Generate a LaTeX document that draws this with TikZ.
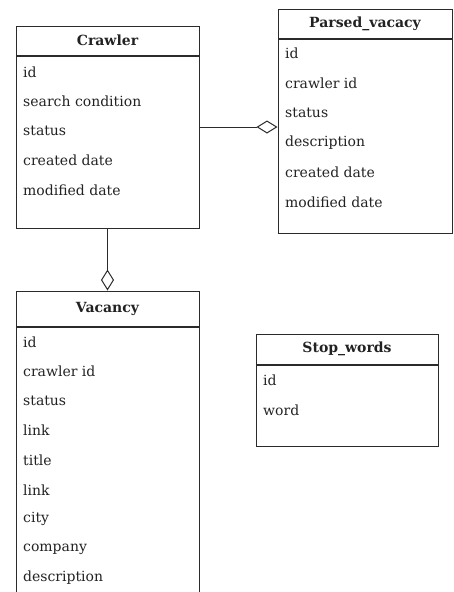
\documentclass[tikz,border=0pt]{standalone}
\usepackage{fontspec}
\setmainfont{DejaVu Serif}
\usetikzlibrary{arrows.meta,positioning}

\definecolor{umlline}{HTML}{2B2B2B}
\definecolor{umltext}{HTML}{222222}

\begin{document}
\begin{tikzpicture}[x=1pt,y=-1pt,
    head/.style={draw=umlline,line width=1pt,inner sep=0,font=\bfseries\fontsize{14}{16}\selectfont,text=umltext},
    body/.style={draw=umlline,line width=1pt,inner sep=0,anchor=north},
    field/.style={anchor=west,inner sep=0,font=\fontsize{14}{16}\selectfont,text=umltext},
    agg/.style={-{Diamond[open,length=21pt,width=13pt]},line width=1pt,draw=umlline}]

    \useasboundingbox (0,0) rectangle (453,592);

    % Crawler
    \node[head,minimum width=183,minimum height=29] (crawler-t) at (107.5,40.5) {Crawler};
    \node[body,minimum width=183,minimum height=172] (crawler) at (crawler-t.south) {};
    \node[field] (crawler-id) at (23,72) {id};
    \node[field] (crawler-cond) at (23,101) {search condition};
    \node[field] (crawler-status) at (23,131) {status};
    \node[field] (crawler-created) at (23,160) {created date};
    \node[field] (crawler-modified) at (23,190) {modified date};

    % Parsed_vacacy
    \node[head,minimum width=174,minimum height=29] (parsed-t) at (365,23.5) {Parsed\_vacacy};
    \node[body,minimum width=174,minimum height=194] (parsed) at (parsed-t.south) {};
    \node[field] (parsed-id) at (285,53) {id};
    \node[field] (parsed-crawler) at (285,83) {crawler id};
    \node[field] (parsed-status) at (285,113) {status};
    \node[field] (parsed-desc) at (285,143) {description};
    \node[field] (parsed-created) at (285,172) {created date};
    \node[field] (parsed-modified) at (285,202) {modified date};

    % Vacancy
    \node[head,minimum width=183,minimum height=35] (vacancy-t) at (107.5,308.5) {Vacancy};
    \node[body,minimum width=183,minimum height=280] (vacancy) at (vacancy-t.south) {};
    \node[field] (vacancy-id) at (23,342) {id};
    \node[field] (vacancy-crawler) at (23,371) {crawler id};
    \node[field] (vacancy-status) at (23,401) {status};
    \node[field] (vacancy-link) at (23,430) {link};
    \node[field] (vacancy-title) at (23,460) {title};
    \node[field] (vacancy-link2) at (23,490) {link};
    \node[field] (vacancy-city) at (23,519) {city};
    \node[field] (vacancy-company) at (23,549) {company};
    \node[field] (vacancy-desc) at (23,578) {description};

    % Stop_words
    \node[head,minimum width=182,minimum height=30] (stop-t) at (347,349) {Stop\_words};
    \node[body,minimum width=182,minimum height=81] (stop) at (stop-t.south) {};
    \node[field] (stop-id) at (263,380) {id};
    \node[field] (stop-word) at (263,410) {word};

    \draw[agg] (crawler.east |- 0,127) -- (parsed.west |- 0,127);
    \draw[agg] (crawler.south) -- (vacancy-t.north);

\end{tikzpicture}
\end{document}
